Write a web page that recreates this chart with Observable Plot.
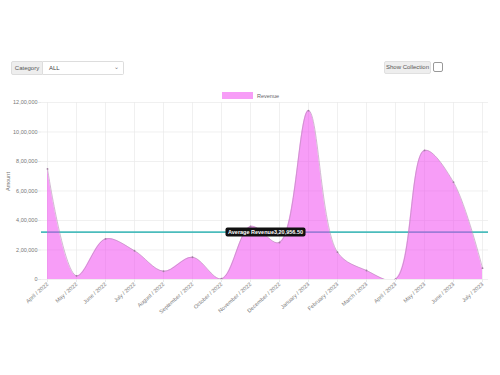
<!DOCTYPE html>
<html>
<head>
<meta charset="utf-8">
<script src="https://cdn.jsdelivr.net/npm/d3@7"></script>
<script src="https://cdn.jsdelivr.net/npm/@observablehq/plot@0.6"></script>
<style>
  html, body { margin: 0; padding: 0; background: #fff; width: 500px; height: 375px; overflow: hidden; }
  body { position: relative; font-family: "Liberation Sans", Arial, sans-serif; }
  .ctl { position: absolute; font-size: 6px; color: #555; box-sizing: border-box; }
  #catLabel { left: 11px; top: 61px; width: 32px; height: 14px; background: #eee; border: 1px solid #ddd; border-radius: 2px 0 0 2px; line-height: 12px; text-align: center; }
  #catSelect { left: 43px; top: 61px; width: 81px; height: 14px; background: #fff; border: 1px solid #ddd; border-left: none; border-radius: 0 2px 2px 0; line-height: 12px; padding-left: 6px; color: #444; }
  #catSelect span { position: absolute; right: 4px; top: -1px; font-size: 6px; color: #777; }
  #showBtn { left: 384px; top: 61px; width: 47px; height: 13px; background: #eee; border: 1px solid #e0e0e0; border-radius: 2px; line-height: 11px; text-align: center; }
  #showChk { left: 433px; top: 62px; width: 10px; height: 10px; background: #fff; border: 1px solid #999; border-radius: 2px; }
  #legend { position: absolute; top: 92px; left: 222px; font-size: 5.5px; color: #666; display: flex; align-items: center; }
  #legend .sw { width: 31px; height: 7px; background: rgba(240,60,240,0.5); margin-right: 4px; }
  #chart { position: absolute; left: 0; top: 0; }
</style>
</head>
<body>
<div id="chart"></div>
<div class="ctl" id="catLabel">Category</div>
<div class="ctl" id="catSelect">ALL<span>&#8964;</span></div>
<div class="ctl" id="showBtn">Show Collection</div>
<div class="ctl" id="showChk"></div>
<div id="legend"><div class="sw"></div><div>Revenue</div></div>
<script>
const months = ["April / 2022","May / 2022","June / 2022","July / 2022","August / 2022","September / 2022","October / 2022","November / 2022","December / 2022","January / 2023","February / 2023","March / 2023","April / 2023","May / 2023","June / 2023","July / 2023"];
const revenue = [750000, 25000, 275000, 195000, 56000, 151000, 5000, 360000, 251000, 1145000, 185000, 61000, 2000, 875000, 660000, 77000];
const averageRevenue = 320956.50;
const averageLabel = "Average Revenue3,20,956.50";
const yTickValues = [0, 200000, 400000, 600000, 800000, 1000000, 1200000];
const yTickLabels = ["0","2,00,000","4,00,000","6,00,000","8,00,000","10,00,000","12,00,000"];
const seriesName = "Revenue";

const data = months.map((m, i) => ({month: m, value: revenue[i]}));

const chart = Plot.plot({
  width: 500,
  height: 375,
  marginTop: 102,
  marginBottom: 96,
  marginLeft: 41,
  marginRight: 12,
  style: {fontFamily: "Liberation Sans, Arial, sans-serif", fontSize: "5.5px", color: "#666", background: "transparent"},
  x: {type: "point", domain: months, padding: 0},
  y: {domain: [0, 1200000]},
  marks: [
    Plot.ruleX(months, {x: d => d, y1: 0, y2: 1200000, stroke: "#e9e9e9", strokeWidth: 0.7}),
    Plot.ruleY(yTickValues, {y: d => d, stroke: "#e9e9e9", strokeWidth: 0.7}),
    Plot.ruleY([averageRevenue], {y: d => d, stroke: "#4bbcbc", strokeWidth: 1.6}),
    Plot.areaY(data, {x: "month", y: "value", curve: "catmull-rom", fill: "rgb(240,60,240)", fillOpacity: 0.5, clip: true}),
    Plot.lineY(data, {x: "month", y: "value", curve: "catmull-rom", stroke: "#b48cb4", strokeWidth: 0.6, clip: true}),
    Plot.dot(data, {x: "month", y: "value", r: 0.9, fill: "#a080a0"}),
    Plot.axisY(yTickValues, {tickSize: 3, tickPadding: 1, tickFormat: (d, i) => yTickLabels[i], stroke: "#e9e9e9", fill: "#777", label: null, fontSize: 5.5}),
    Plot.axisX(months, {tickSize: 3, tickRotate: -42, tickPadding: 1, stroke: "#e9e9e9", fill: "#777", label: null, fontSize: 5.5, textAnchor: "end"}),
    Plot.text(["Amount"], {frameAnchor: "left", dx: -33, rotate: -90, fill: "#777", fontSize: 5.5}),
    Plot.text([averageLabel], {x: () => months[7], y: () => averageRevenue, dx: 15, fill: "#fff", fontWeight: "bold", fontSize: 5.5, className: "avg-label"})
  ]
});
document.getElementById("chart").appendChild(chart);

// rounded dark background box behind the average label, sized from the rendered text
const lbl = chart.querySelector(".avg-label text");
if (lbl) {
  const bb = lbl.getBBox();
  const ns = "http://www.w3.org/2000/svg";
  const rect = document.createElementNS(ns, "rect");
  rect.setAttribute("x", bb.x - 2.5);
  rect.setAttribute("y", bb.y - 1.5);
  rect.setAttribute("width", bb.width + 5);
  rect.setAttribute("height", bb.height + 3);
  rect.setAttribute("rx", 2);
  rect.setAttribute("fill", "#111");
  const g = lbl.parentNode;
  const tr = lbl.getAttribute("transform");
  if (tr) rect.setAttribute("transform", tr);
  g.insertBefore(rect, lbl);
}
</script>
</body>
</html>
